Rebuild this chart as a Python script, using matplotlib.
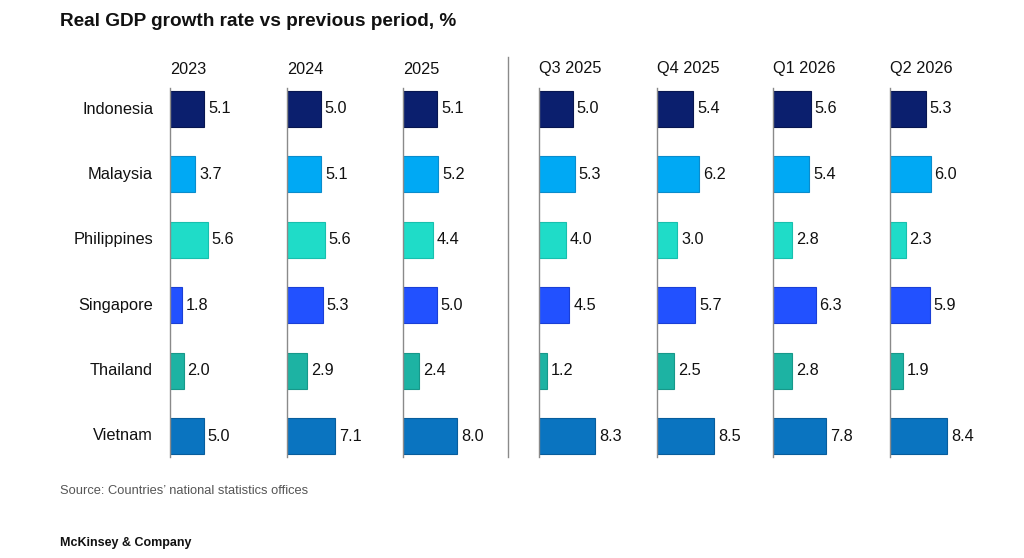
import numpy as np
import matplotlib.pyplot as plt
from matplotlib.lines import Line2D

plt.rcParams['font.family'] = ['Liberation Sans', 'DejaVu Sans']

countries = ['Indonesia', 'Malaysia', 'Philippines', 'Singapore', 'Thailand', 'Vietnam']
periods = ['2023', '2024', '2025', 'Q3 2025', 'Q4 2025', 'Q1 2026', 'Q2 2026']

# growth, % (rows = countries, cols = periods)
growth = np.array([
    [5.1, 5.0, 5.1, 5.0, 5.4, 5.6, 5.3],
    [3.7, 5.1, 5.2, 5.3, 6.2, 5.4, 6.0],
    [5.6, 5.6, 4.4, 4.0, 3.0, 2.8, 2.3],
    [1.8, 5.3, 5.0, 4.5, 5.7, 6.3, 5.9],
    [2.0, 2.9, 2.4, 1.2, 2.5, 2.8, 1.9],
    [5.0, 7.1, 8.0, 8.3, 8.5, 7.8, 8.4],
])

colors = ['#0b1f6e', '#00a9f4', '#1fdcc8', '#2251ff', '#1db3a3', '#0a74c0']
edges = ['#081650', '#0a8ccc', '#18bfae', '#1a3fd6', '#17988a', '#085d9c']

W, H = 1024, 558
fig = plt.figure(figsize=(W / 100, H / 100), dpi=100)

panel_left = [170, 287, 403, 539, 657, 773, 890]
px_per_unit = 6.75
ax_w = 105
top, bottom = 88, 457
y = np.arange(len(countries))

for j, (left, per) in enumerate(zip(panel_left, periods)):
    ax = fig.add_axes([left / W, 1 - bottom / H, ax_w / W, (bottom - top) / H])
    vals = growth[:, j]
    ax.barh(y, vals, height=0.55, color=colors, edgecolor=edges, linewidth=0.8)
    for yi, v in zip(y, vals):
        ax.text(v + 0.6, yi, f'{v:.1f}', va='center', ha='left', fontsize=11.7, color='#111111')
    ax.set_xlim(0, ax_w / px_per_unit)
    ax.set_ylim(5.32, -0.32)
    for s in ['top', 'right', 'bottom']:
        ax.spines[s].set_visible(False)
    ax.spines['left'].set_color('#8a8a8a')
    ax.spines['left'].set_linewidth(1.0)
    ax.set_xticks([])
    ax.set_yticks([])
    ax.patch.set_alpha(0)
    fig.text(left / W, 1 - 69 / H, per, ha='left', va='center', fontsize=11.7, color='#111111')

# row labels
row_step = (436 - 109) / 5
for i, c in enumerate(countries):
    fig.text(153 / W, 1 - (109 + i * row_step) / H, c, ha='right', va='center',
             fontsize=11.8, color='#111111')

# separator between annual and quarterly
fig.add_artist(Line2D([508 / W, 508 / W], [1 - 57 / H, 1 - 457 / H],
                      color='#8a8a8a', linewidth=1.0))

fig.text(60 / W, 1 - 22 / H, 'Real GDP growth rate vs previous period, %', ha='left', va='center',
         fontsize=13.7, fontweight='bold', color='#111111')
fig.text(60 / W, 1 - 491 / H, "Source: Countries\u2019 national statistics offices", ha='left', va='center',
         fontsize=9.3, color='#555555')
fig.text(60 / W, 1 - 543 / H, 'McKinsey & Company', ha='left', va='center',
         fontsize=9, color='#111111', fontweight='bold')

fig.savefig('out.png', dpi=100)
